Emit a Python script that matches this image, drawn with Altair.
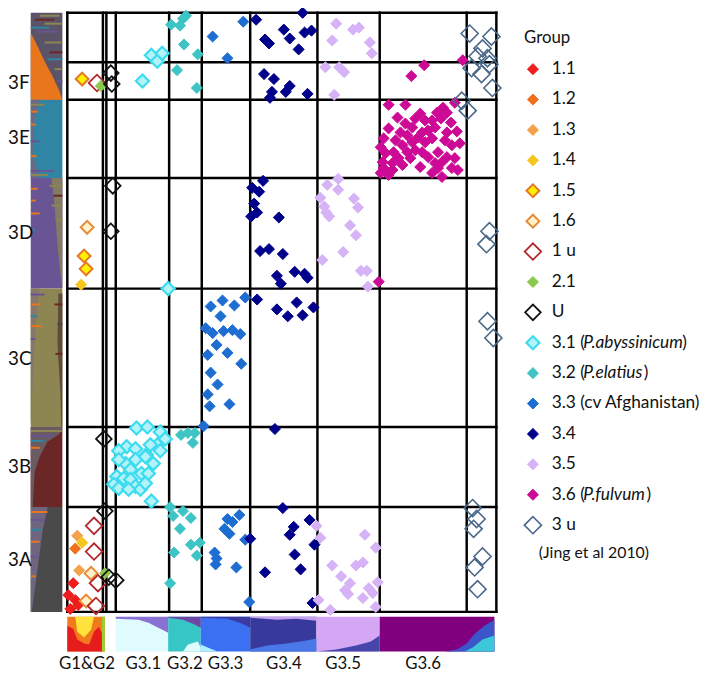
import altair as alt
import pandas as pd

# All positional values below were read off the reference picture on its pixel grid
# and are converted to frame units: x from the frame's left edge, y up from its bottom.
FX, FY = 68, 612


def cx(v):
    return v - FX


def cy(v):
    return FY - v


W, H = 700, 668
XS = alt.Scale(domain=[-60, 640], nice=False, zero=False)
YS = alt.Scale(domain=[-61, 607], nice=False, zero=False)

# ---------------- groups & styles ----------------
groups = ["1.1", "1.2", "1.3", "1.4", "1.5", "1.6", "1 u", "2.1", "U",
          "3.1", "3.2", "3.3", "3.4", "3.5", "3.6", "3 u"]
fill_colors = ["#ee1c1c", "#f0701e", "#f5a04a", "#f5c61e", "#fff000", "#fff2c8", "transparent",
               "#8cc84e", "transparent", "#b4f2fa", "#3ec4c4", "#1e6ed2", "#00008b",
               "#d6b2f6", "#cc0a96", "transparent"]
stroke_colors = ["#ee1c1c", "#f0701e", "#f5a04a", "#f5c61e", "#e4782a", "#e8893a", "#b2262c",
                 "#8cc84e", "#111111", "#3cdcf0", "#3ec4c4", "#1e6ed2", "#00008b",
                 "#d6b2f6", "#cc0a96", "#4a6888"]
symbol_sizes = [125, 125, 125, 125, 170, 170, 280, 125, 250, 175, 125, 125, 125, 125, 125, 300]
stroke_widths = [1, 1, 1, 1, 2, 2, 1.8, 1, 1.8, 2.2, 1, 1, 1, 1, 1, 1.6]

# ---------------- scatter points ----------------
pts_1_1 = [(74, 583), (69, 595), (76, 600), (71, 609), (79, 605)]
pts_1_2 = [(76, 548)]
pts_1_3 = [(78, 535), (80, 570)]
pts_1_4 = [(83, 542), (82, 281)]
pts_1_5 = [(83, 73), (85, 252), (87, 265)]
pts_1_6 = [(88, 223), (92, 573), (87, 601)]
pts_1_u = [(98, 77), (95, 525), (95, 551), (99, 583), (97, 606)]
pts_2_1 = [(102, 80), (106, 573)]
pts_U = [(112, 67), (113, 78), (114, 181), (112, 227), (105, 437), (106, 510), (110, 577), (117, 580)]
pts_3_1 = [(153, 49), (159, 55), (164, 47), (144, 75), (170, 285),
           (138, 426), (149, 425), (162, 430), (167, 437), (159, 443), (152, 443), (128, 445),
           (120, 449), (137, 447), (148, 453), (162, 449), (147, 455), (127, 462), (137, 458),
           (132, 468), (143, 472), (118, 475), (125, 477), (150, 472), (132, 478), (115, 483),
           (120, 487), (137, 485), (142, 488), (147, 482), (153, 500), (120, 458), (155, 462),
           (130, 488)]
pts_3_2 = [(173, 18), (182, 19), (185, 12), (188, 9), (186, 38), (200, 48), (179, 64), (199, 82),
           (183, 433), (190, 431), (197, 431), (195, 441),
           (172, 506), (175, 515), (185, 510), (193, 517), (182, 528), (193, 544), (202, 542),
           (199, 555), (176, 552), (172, 583)]
pts_3_3 = [(215, 30), (230, 52), (246, 15),
           (248, 294), (237, 302), (225, 297), (213, 303), (223, 313), (208, 325), (215, 330),
           (226, 328), (235, 327), (243, 331), (219, 342), (210, 352), (230, 350), (244, 361),
           (213, 370), (220, 382), (210, 392), (232, 402), (212, 404), (206, 424),
           (242, 514), (235, 521), (230, 518), (227, 528), (232, 533), (248, 539), (217, 552),
           (219, 558), (218, 564), (239, 567), (252, 602)]
pts_3_4 = [(259, 13), (306, 6), (287, 23), (293, 32), (268, 33), (272, 37), (302, 43), (308, 26),
           (315, 24), (267, 68), (277, 73), (293, 80), (289, 86), (275, 86), (273, 92), (311, 88),
           (266, 176), (255, 183), (262, 187), (257, 199), (260, 208), (254, 212), (282, 213),
           (263, 247), (272, 245), (286, 250), (280, 272), (284, 280), (298, 268), (308, 270),
           (311, 274), (260, 296), (280, 306), (291, 313), (300, 299), (306, 312), (317, 304),
           (278, 427), (286, 507), (313, 519), (297, 526), (293, 534), (318, 544), (253, 538),
           (298, 554), (304, 569), (268, 572), (316, 603)]
pts_3_5 = [(340, 17), (357, 23), (363, 21), (336, 34), (374, 36), (376, 47), (329, 61), (343, 61),
           (348, 66), (338, 89),
           (342, 174), (331, 180), (342, 185), (324, 193), (358, 194), (328, 202), (330, 208),
           (362, 203), (333, 212), (354, 221), (360, 231), (347, 248), (326, 256), (365, 267),
           (371, 267), (372, 283),
           (320, 525), (324, 537), (369, 534), (380, 547), (336, 565), (360, 565), (367, 562),
           (345, 576), (354, 583), (349, 590), (352, 594), (373, 588), (382, 582), (377, 593),
           (367, 598), (322, 600), (334, 610), (380, 607)]
pts_3_6 = [(429, 59), (416, 70), (468, 54), (383, 278),
           (393, 99), (410, 99), (460, 97), (448, 102), (442, 107), (452, 107), (425, 108),
           (420, 113), (430, 115), (437, 115), (446, 113), (456, 117), (410, 118), (417, 122),
           (393, 123), (433, 125), (405, 127), (427, 127), (452, 127), (462, 126), (412, 130),
           (423, 132), (437, 133), (388, 133), (400, 135), (417, 137), (430, 137), (465, 138),
           (457, 140), (385, 142), (407, 140), (412, 147), (398, 147), (390, 148), (427, 147),
           (443, 147), (452, 152), (460, 153), (403, 153), (415, 153), (387, 157), (397, 158),
           (407, 160), (440, 158), (447, 157), (388, 163), (397, 165), (443, 163), (463, 165),
           (385, 168), (393, 170), (437, 168), (447, 172), (457, 163), (420, 145), (433, 152),
           (425, 162), (450, 135), (402, 112), (440, 122)]
pts_3_u = [(475, 27), (497, 30), (488, 42), (483, 50), (493, 52), (477, 62), (487, 68), (495, 58),
           (498, 82), (467, 95), (473, 105), (495, 227), (492, 240), (493, 318), (499, 335),
           (478, 507), (482, 518), (479, 528), (488, 556), (480, 567), (483, 589)]

group_points = [pts_1_1, pts_1_2, pts_1_3, pts_1_4, pts_1_5, pts_1_6, pts_1_u, pts_2_1, pts_U,
                pts_3_1, pts_3_2, pts_3_3, pts_3_4, pts_3_5, pts_3_6, pts_3_u]

# ---------------- grid ----------------
grid_x = [68, 104, 107.5, 117, 171, 204, 253, 321, 384, 472, 502]
grid_y = [6, 56, 94, 173, 285, 425, 506, 612]

# ---------------- left STRUCTURE bar ----------------
cluster_names = ["3F", "3E", "3D", "3C", "3B", "3A"]
cluster_top = [6, 94, 173, 285, 425, 506]
cluster_bottom = [94, 173, 285, 425, 506, 612]
cluster_colors = ["#5b5468", "#2f85a3", "#6a5594", "#8e8652", "#6b2626", "#4a4a4a"]
cluster_label_y = [77, 133, 229, 356, 466, 560]
bar_left, bar_right = 31, 63

# mixture regions: (id, colour, [(y, x_left, x_right), ...])
struct_areas = [
    ("3F_orange", "#e8761c", [(28, 31, 32), (40, 31, 38), (55, 31, 45), (70, 31, 53), (85, 31, 60), (94, 31, 63)]),
    ("3E_left", "#6a6a86", [(94, 31, 40), (120, 31, 34), (150, 31, 33), (173, 31, 40)]),
    ("3D_right", "#857b62", [(173, 52, 63), (200, 55, 63), (240, 58, 63), (270, 61, 63), (285, 63, 63)]),
    ("3C_left", "#85786a", [(285, 31, 40), (320, 31, 36), (360, 31, 34), (400, 31, 32), (425, 31, 31)]),
    ("3C_right", "#5f4a3c", [(290, 59, 63), (340, 58, 63), (390, 61, 63), (425, 62, 63)]),
    ("3B_top", "#6a5a62", [(425, 31, 63), (432, 31, 60), (440, 31, 48), (455, 31, 40), (470, 31, 35), (506, 31, 33)]),
    ("3A_left", "#6e6680", [(506, 31, 48), (530, 31, 43), (560, 31, 39), (590, 31, 35), (612, 31, 32)]),
]
# a few individual stripes: (y_top, y_bottom, x_left, x_right, colour)
struct_stripes = [
    (8, 10, 40, 60, "#8e8652"), (12, 14, 35, 55, "#6b2626"), (16, 18, 45, 63, "#8e8652"),
    (20, 22, 31, 50, "#2f85a3"), (24, 26, 38, 58, "#6a5594"),
    (35, 37, 45, 63, "#8e8652"), (45, 47, 50, 63, "#6b2626"), (52, 54, 48, 63, "#2f85a3"),
    (62, 64, 55, 63, "#8e8652"), (74, 76, 58, 63, "#6a5594"),
    (98, 100, 31, 45, "#8e8652"), (105, 107, 31, 38, "#e8761c"), (118, 120, 31, 36, "#e8761c"),
    (135, 137, 31, 40, "#6a5594"), (150, 152, 31, 37, "#e8761c"), (165, 167, 31, 55, "#6a5594"),
    (169, 171, 31, 48, "#8e8652"),
    (183, 185, 31, 38, "#e8761c"), (195, 197, 31, 36, "#e8761c"), (208, 210, 31, 40, "#e8761c"),
    (225, 227, 31, 35, "#2f85a3"), (180, 182, 50, 63, "#8e8652"), (190, 192, 54, 63, "#6b2626"),
    (200, 202, 52, 63, "#8e8652"), (215, 217, 57, 63, "#8e8652"),
    (290, 292, 31, 45, "#6a5594"), (300, 302, 31, 40, "#e8761c"), (312, 314, 31, 38, "#2f85a3"),
    (322, 324, 31, 42, "#e8761c"), (335, 337, 31, 36, "#6a5594"), (300, 302, 55, 63, "#6b2626"),
    (320, 322, 58, 63, "#4a4a4a"), (350, 352, 56, 63, "#6b2626"),
    (428, 430, 31, 63, "#8e8652"), (433, 435, 31, 55, "#6a5594"), (438, 440, 31, 45, "#2f85a3"),
    (445, 447, 31, 40, "#e8761c"),
    (510, 512, 31, 48, "#e8761c"), (518, 520, 31, 45, "#6a5594"), (528, 530, 31, 42, "#2f85a3"),
    (540, 542, 31, 40, "#e8761c"), (555, 557, 31, 38, "#6a5594"), (575, 577, 31, 36, "#e8761c"),
]

# ---------------- bottom STRUCTURE strip ----------------
strip_top, strip_bottom = 617, 652
strip_names = ["G1&G2", "G3.1", "G3.2", "G3.3", "G3.4", "G3.5", "G3.6"]
strip_left = [68, 117, 170, 203, 253, 320, 384]
strip_right = [106, 170, 203, 253, 320, 384, 500]
strip_colors = ["#f07a1c", "#e0fbfd", "#36c6c6", "#3b70f3", "#38399c", "#d4a6f4", "#800080"]
strip_label_x = [88, 145, 187, 228, 287, 347, 428]
strip_label_y = 665
# mixture regions: (id, colour, [(x, y_top, y_bottom), ...])
strip_areas = [
    ("g12_yellow", "#ffe23c", [(76, 617, 617), (78, 617, 632), (85, 617, 638), (92, 617, 630), (95, 617, 617)]),
    ("g12_red", "#e51c1c", [(68, 626, 652), (74, 629, 652), (78, 640, 652), (85, 644, 652), (90, 645, 652),
                            (95, 632, 652), (100, 627, 652), (104, 636, 652)]),
    ("g12_green", "#9acd32", [(103, 617, 652), (106, 617, 652)]),
    ("g31_top", "#8a72d4", [(117, 617, 619), (140, 617, 620), (150, 617, 623), (160, 617, 628), (170, 617, 633)]),
    ("g32_top", "#6e46a8", [(170, 617, 618), (185, 617, 620), (195, 617, 624), (203, 617, 628)]),
    ("g32_bottom", "#e0fbfd", [(185, 652, 652), (190, 645, 652), (200, 642, 652), (203, 648, 652)]),
    ("g33_top", "#3a3aa0", [(203, 617, 618), (230, 617, 619), (245, 617, 624), (253, 617, 628)]),
    ("g33_bottom", "#aef0ff", [(203, 645, 652), (210, 648, 652), (220, 652, 652)]),
    ("g34_bottom", "#4a78e8", [(253, 650, 652), (270, 646, 652), (290, 644, 652), (310, 641, 652), (320, 639, 652)]),
    ("g34_top", "#c8a0f0", [(253, 617, 618), (280, 617, 620), (300, 617, 619), (320, 617, 621)]),
    ("g35_bottom", "#4646aa", [(320, 652, 652), (340, 650, 652), (360, 646, 652), (375, 642, 652), (384, 636, 652)]),
    ("g36_right", "#3a56c8", [(450, 652, 652), (462, 650, 652), (472, 644, 652), (480, 634, 652), (490, 626, 652),
                              (500, 620, 652)]),
    ("g36_cyan", "#3cc8d8", [(470, 652, 652), (478, 648, 652), (488, 640, 652), (500, 636, 652)]),
]

# ---------------- legend ----------------
legend_title = "Group"
legend_plain = ["1.1", "1.2", "1.3", "1.4", "1.5", "1.6", "1 u", "2.1", "U",
                "3.1 (", "3.2 (", "3.3 (cv Afghanistan)", "3.4", "3.5", "3.6 (", "3 u"]
legend_italic = {9: "P.abyssinicum", 10: "P.elatius", 14: "P.fulvum"}
legend_note = "(Jing et al 2010)"
# layout of the legend (reference pixels)
LEG_SYM_X, LEG_TXT_X, LEG_Y0, LEG_DY = 539, 558, 63, 30.75
LEG_ITALIC_X = 590
LEG_CLOSE_X = {9: 690, 10: 651, 14: 654}

FONT = "Lato"

# =================== build data frames ===================
style = {g: dict(fill=f, stroke=s, size=z, sw=w)
         for g, f, s, z, w in zip(groups, fill_colors, stroke_colors, symbol_sizes, stroke_widths)}

rows = []
for g, plist in zip(groups, group_points):
    for (px, py) in plist:
        rows.append(dict(group=g, x=cx(px), y=cy(py), **style[g]))
points_df = pd.DataFrame(rows)

leg_rows = []
for i, g in enumerate(groups):
    leg_rows.append(dict(group=g, x=cx(LEG_SYM_X), y=cy(LEG_Y0 + i * LEG_DY), **style[g]))
legend_sym_df = pd.DataFrame(leg_rows)

leg_txt = []
for i, t in enumerate(legend_plain):
    leg_txt.append(dict(x=cx(LEG_TXT_X), y=cy(LEG_Y0 + i * LEG_DY), text=t))
for i, t in legend_italic.items():
    leg_txt.append(dict(x=cx(LEG_CLOSE_X[i]), y=cy(LEG_Y0 + i * LEG_DY), text=")"))
legend_txt_df = pd.DataFrame(leg_txt)
legend_it_df = pd.DataFrame([dict(x=cx(LEG_ITALIC_X), y=cy(LEG_Y0 + i * LEG_DY), text=t)
                             for i, t in legend_italic.items()])
legend_title_df = pd.DataFrame([dict(x=cx(530), y=cy(32), text=legend_title)])
legend_note_df = pd.DataFrame([dict(x=cx(545), y=cy(553), text=legend_note)])

vrules = pd.DataFrame([dict(x=cx(v), y=cy(grid_y[0]), y2=cy(grid_y[-1])) for v in grid_x])
hrules = pd.DataFrame([dict(y=cy(v), x=cx(grid_x[0]), x2=cx(grid_x[-1])) for v in grid_y])

struct_rects = pd.DataFrame([dict(x=cx(bar_left), x2=cx(bar_right), y=cy(t), y2=cy(b), color=c)
                             for t, b, c in zip(cluster_top, cluster_bottom, cluster_colors)])
stripe_df = pd.DataFrame([dict(y=cy(t), y2=cy(b), x=cx(l), x2=cx(r), color=c)
                          for t, b, l, r, c in struct_stripes])
cluster_label_df = pd.DataFrame([dict(x=cx(8), y=cy(v), text=n)
                                 for n, v in zip(cluster_names, cluster_label_y)])

strip_rects = pd.DataFrame([dict(x=cx(l), x2=cx(r), y=cy(strip_top), y2=cy(strip_bottom), color=c)
                            for l, r, c in zip(strip_left, strip_right, strip_colors)])
strip_label_df = pd.DataFrame([dict(x=cx(v), y=cy(strip_label_y), text=n)
                               for n, v in zip(strip_names, strip_label_x)])

# =================== encodings ===================
X = alt.X("x:Q", scale=XS, axis=None)
Y = alt.Y("y:Q", scale=YS, axis=None)
XN = alt.X("x:Q", scale=XS, axis=None, stack=None)
YN = alt.Y("y:Q", scale=YS, axis=None, stack=None)
X2 = alt.X2("x2:Q")
Y2 = alt.Y2("y2:Q")
COL = alt.Color("color:N", scale=None, legend=None)

layers = []
layers.append(alt.Chart(struct_rects).mark_rect().encode(x=X, x2=X2, y=Y, y2=Y2, color=COL))
for aid, col, pl in struct_areas:
    df = pd.DataFrame([dict(y=cy(yv), x=cx(xl), x2=cx(xr)) for (yv, xl, xr) in pl])
    layers.append(alt.Chart(df).mark_area(orient="horizontal", color=col, opacity=1).encode(
        y=Y, x=XN, x2=X2))
layers.append(alt.Chart(stripe_df).mark_rect().encode(x=X, x2=X2, y=Y, y2=Y2, color=COL))
layers.append(alt.Chart(strip_rects).mark_rect().encode(x=X, x2=X2, y=Y, y2=Y2, color=COL))
for aid, col, pl in strip_areas:
    df = pd.DataFrame([dict(x=cx(xv), y=cy(t), y2=cy(b)) for (xv, t, b) in pl])
    layers.append(alt.Chart(df).mark_area(orient="vertical", color=col, opacity=1).encode(
        x=X, y=YN, y2=Y2))
layers.append(alt.Chart(vrules).mark_rule(color="black", strokeWidth=2.5, strokeCap="square").encode(
    x=X, y=Y, y2=Y2))
layers.append(alt.Chart(hrules).mark_rule(color="black", strokeWidth=2.5, strokeCap="square").encode(
    x=X, x2=X2, y=Y))

POINT_ENC = dict(
    x=X, y=Y,
    fill=alt.Fill("fill:N", scale=None, legend=None),
    stroke=alt.Stroke("stroke:N", scale=None, legend=None),
    size=alt.Size("size:Q", scale=None, legend=None),
    strokeWidth=alt.StrokeWidth("sw:Q", scale=None, legend=None),
)
layers.append(alt.Chart(points_df).mark_point(shape="diamond", opacity=1).encode(**POINT_ENC))
layers.append(alt.Chart(legend_sym_df).mark_point(shape="diamond", opacity=1).encode(**POINT_ENC))

TXT = alt.Text("text:N")
layers.append(alt.Chart(cluster_label_df).mark_text(font=FONT, fontSize=19, align="left", baseline="middle",
                                                    color="#111").encode(x=X, y=Y, text=TXT))
layers.append(alt.Chart(strip_label_df).mark_text(font=FONT, fontSize=17, align="center", baseline="middle",
                                                  color="#111").encode(x=X, y=Y, text=TXT))
layers.append(alt.Chart(legend_title_df).mark_text(font=FONT, fontSize=17, align="left", baseline="middle",
                                                   color="#111").encode(x=X, y=Y, text=TXT))
layers.append(alt.Chart(legend_txt_df).mark_text(font=FONT, fontSize=17.5, align="left", baseline="middle",
                                                 color="#111").encode(x=X, y=Y, text=TXT))
layers.append(alt.Chart(legend_it_df).mark_text(font=FONT, fontSize=17.5, fontStyle="italic", align="left",
                                                baseline="middle", color="#111").encode(x=X, y=Y, text=TXT))
layers.append(alt.Chart(legend_note_df).mark_text(font=FONT, fontSize=16, align="left", baseline="middle",
                                                  color="#111").encode(x=X, y=Y, text=TXT))

chart = alt.layer(*layers).properties(
    width=W, height=H, padding=0, autosize=alt.AutoSizeParams(type="none"),
    background="white",
).configure_view(stroke=None)

chart.save("out.html", embed_options={"renderer": "svg", "actions": False})
